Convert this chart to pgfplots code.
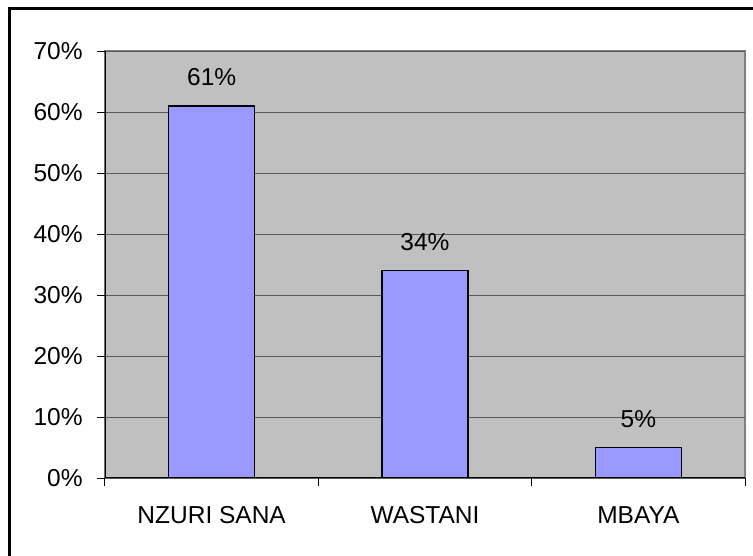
\documentclass[border=0pt]{standalone}
\usepackage{pgfplots}
\pgfplotsset{compat=1.18}
\usepackage{fontspec}
\setmainfont{Liberation Sans}
\definecolor{plotbg}{HTML}{C0C0C0}
\definecolor{barfill}{HTML}{9999FF}
\definecolor{gridc}{HTML}{5A5A5A}
\definecolor{framec}{HTML}{808080}
\begin{document}
\fontsize{24.5bp}{29bp}\selectfont
\begin{tikzpicture}
  \useasboundingbox (0,0) rectangle (753bp,556bp);
  \draw[line width=3bp] (9bp,-2bp) -- (9bp,547bp) -- (756bp,547bp);
  \begin{axis}[
      at={(105bp,78bp)}, anchor=south west,
      scale only axis,
      width=640bp, height=427bp,
      xmin=-0.5, xmax=2.5,
      ymin=0, ymax=70,
      ytick={0,10,...,70},
      yticklabel={\pgfmathprintnumber{\tick}\%},
      xtick={-0.5,0.5,1.5,2.5},
      xticklabels={},
      extra x ticks={0,1,2},
      extra x tick labels={NZURI SANA, WASTANI, MBAYA},
      extra x tick style={major tick length=0pt},
      tick style={black, line width=1bp},
      major tick length=8bp,
      tick align=outside,
      tick pos=left,
      axis line style={draw=none},
      axis background/.style={fill=plotbg, draw=framec, line width=2bp},
      ymajorgrids,
      grid style={gridc, line width=1bp},
      /pgf/number format/assume math mode=true,
      ticklabel style={font=\fontsize{24.5bp}{29bp}\selectfont},
      xticklabel style={yshift=-20bp},
      yticklabel style={xshift=-6bp},
      ybar,
      bar width=86bp,
      nodes near coords={\pgfmathprintnumber{\pgfplotspointmeta}\%},
      nodes near coords style={font=\fontsize{24.5bp}{29bp}\selectfont, anchor=base, yshift=20bp},
    ]
    \addplot[fill=barfill, draw=black, line width=1.5bp] coordinates {(0,61) (1,34) (2,5)};
    \draw[black, line width=1.5bp] (rel axis cs:0,1) -- (rel axis cs:0,0) -- (rel axis cs:1,0);
  \end{axis}
\end{tikzpicture}
\end{document}
